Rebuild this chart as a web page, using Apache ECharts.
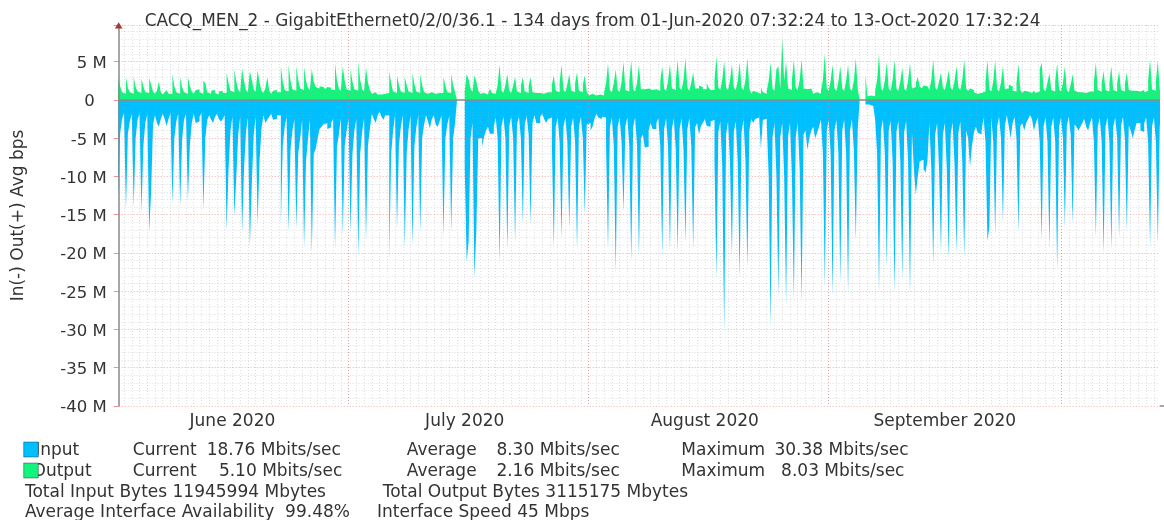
<!DOCTYPE html>
<html><head><meta charset="utf-8">
<script src="https://cdn.jsdelivr.net/npm/echarts@6/dist/echarts.min.js"></script>
<style>html,body{margin:0;padding:0;background:#fff}#c{width:1164px;height:520px}</style>
</head><body><div id="c"></div>
<script>
// Values in Mbit/s, four 6-hour bins per day (00-06, 06-12, 12-18, 18-24), UTC.
const inJun = [
 1.7,12.5,4.4,2.5, 1.7,14.3,4.4,2.8, 1.8,13.9,5.0,2.6, 1.8,14.7,6.0,3.0, 1.9,17.2,12.0,3.2, 2.0,3.0,3.5,2.5, 1.8,2.5,3.4,2.5,
 1.7,13.5,5.0,2.8, 1.8,13.9,5.2,2.6, 1.8,13.1,6.0,3.0, 1.8,3.0,2.8,2.2, 1.7,14.3,5.0,2.6, 2.0,2.6,3.0,2.2, 1.8,2.5,2.8,2.5,
 2.0,17.0,9.0,4.0, 2.2,15.2,10.0,4.5, 2.2,17.3,9.0,4.2, 2.3,19.2,11.0,4.5, 2.2,16.2,8.0,3.8, 2.0,3.0,2.6,2.2, 1.8,2.6,2.5,2.0,
 2.0,16.3,6.0,3.5, 2.2,17.3,6.5,4.0, 2.5,16.8,7.0,5.0, 2.6,19.4,8.0,5.2, 2.6,20.0,7.0,6.4, 5.0,3.8,3.5,3.2, 3.0,3.8,3.6,3.0,
 2.5,19.4,6.0,4.5, 2.4,17.6,6.0,4.0
];
const outJun = [
 0.8,2.9,1.8,1.0, 0.8,3.0,1.6,1.0, 0.8,3.0,1.7,1.1, 0.9,2.8,1.8,1.0, 0.9,2.9,2.0,1.1, 0.8,1.2,2.4,1.0, 0.7,1.0,1.3,0.8,
 0.8,3.4,1.8,1.0, 0.8,3.0,1.7,1.0, 0.8,3.0,1.9,1.1, 0.8,1.3,1.4,1.0, 0.8,2.5,2.2,1.0, 0.8,1.2,1.3,0.9, 0.7,1.1,1.2,0.9,
 0.9,3.6,2.2,1.2, 1.0,4.0,2.4,1.3, 1.0,4.1,2.5,1.3, 1.0,3.8,2.6,1.4, 1.0,3.9,2.3,1.2, 0.9,1.5,3.0,1.2, 0.8,1.2,1.3,1.0,
 1.0,4.4,2.4,1.3, 1.1,4.6,2.5,1.4, 1.2,4.4,2.6,1.5, 1.3,4.3,2.5,1.6, 1.3,4.0,2.4,1.7, 1.5,1.8,1.7,1.5, 1.4,1.7,1.6,1.3,
 1.3,4.8,2.6,1.5, 1.2,4.4,2.5,1.4
];
const inJul = [
 2.4,17.4,7.0,4.0, 2.5,20.4,7.0,4.2, 2.4,18.4,6.0,3.8, 1.8,2.5,3.0,2.0, 1.5,2.2,2.6,2.0,
 2.0,20.9,7.0,4.0, 2.0,16.9,6.0,3.5, 2.0,19.4,7.0,3.8, 2.1,19.0,6.0,3.6, 2.0,17.4,5.0,3.2, 2.0,2.8,3.7,2.5, 2.0,3.2,3.5,2.8,
 2.0,17.8,5.0,3.2, 2.1,17.3,5.0,3.0, null,null,null,null, 9.0,21.1,18.5,5.0, 3.0,23.3,16.9,5.0, 5.0,6.1,4.8,4.0, 3.5,4.4,4.4,3.5,
 2.3,5.0,21.4,3.4, 2.2,5.0,19.6,3.4, 2.2,5.0,18.7,3.2, 2.2,5.0,16.2,3.2, 2.1,4.5,16.2,3.0, 2.0,3.0,3.0,2.2, 1.8,2.5,3.0,2.5,
 2.3,5.5,19.4,3.5, 2.3,5.5,18.2,3.5, 2.3,5.5,16.9,3.5, 2.3,5.5,19.6,3.5, 2.2,5.0,15.0,3.2
];
const outJul = [
 1.2,4.0,2.4,1.4, 1.2,5.0,2.6,1.4, 1.1,4.2,2.3,1.3, 0.8,1.0,0.9,0.7, 0.7,0.9,0.8,0.7,
 0.9,3.8,2.2,1.1, 0.9,3.2,2.0,1.1, 0.9,3.0,2.0,1.1, 0.9,3.5,2.1,1.1, 0.9,3.4,2.0,1.0, 0.8,0.9,1.0,0.8, 0.8,0.9,0.9,0.8,
 0.9,3.0,1.9,1.0, 0.9,3.4,2.0,1.0, null,null,null,null, 1.2,3.4,2.7,1.5, 1.0,3.2,2.4,1.2, 0.8,0.9,0.8,0.7, 0.8,1.5,0.9,0.8,
 0.9,2.0,4.6,1.2, 0.9,2.0,3.4,1.2, 0.9,1.9,3.0,1.1, 0.9,1.9,3.0,1.1, 0.9,1.8,3.0,1.0, 0.9,1.0,0.9,0.8, 0.8,0.9,1.0,0.8,
 1.0,2.0,3.2,1.2, 1.0,2.2,4.6,1.3, 1.0,2.1,3.4,1.2, 1.0,2.2,3.6,1.2, 1.0,2.0,3.2,1.1
];
const inAug = [
 3.0,4.0,3.5,2.5, 1.8,2.3,2.5,2.2,
 2.3,6.0,19.6,3.5, 2.3,6.0,22.6,3.5, 2.3,5.5,14.6,3.4, 2.3,6.0,21.1,3.5, 2.3,6.0,20.4,5.0, 4.5,6.2,6.1,4.0, 3.0,3.8,3.8,3.0,
 2.4,6.0,20.4,3.8, 2.4,6.0,19.8,3.8, 2.4,6.5,19.9,3.8, 2.4,6.5,18.6,3.8, 2.4,6.0,19.6,3.6, 3.0,4.5,3.4,3.0, 2.5,3.4,3.5,2.8,
 2.6,8.0,23.3,4.2, 2.8,8.5,30.38,4.5, 2.8,8.0,20.4,4.2, 2.8,8.0,23.4,4.2, 2.6,8.0,22.0,4.0, 2.5,3.0,2.5,2.3, 2.0,6.3,2.6,2.5,
 3.0,10.0,29.6,4.8, 3.0,10.0,25.7,4.8, 3.0,10.0,26.8,4.8, 3.0,10.0,26.1,4.8, 3.0,9.0,26.4,4.5, 4.0,6.5,5.0,4.0, 3.5,5.0,4.3,3.5,
 2.6,7.0,24.4,4.0
];
const outAug = [
 0.6,0.8,0.7,0.6, 0.5,0.7,0.6,0.6,
 1.0,2.2,4.8,1.3, 1.0,2.2,4.0,1.3, 1.0,2.3,5.0,1.3, 1.1,2.4,5.2,1.4, 1.1,2.3,4.6,1.4, 1.4,1.6,1.5,1.3, 1.3,1.5,1.4,1.2,
 1.2,2.4,4.4,1.5, 1.2,2.4,4.7,1.5, 1.3,2.5,5.2,1.6, 1.3,2.6,5.5,1.6, 1.2,2.3,3.6,1.5, 1.5,1.9,1.7,1.4, 1.4,2.2,1.6,1.3,
 1.3,2.6,5.7,1.6, 1.3,2.6,5.1,1.6, 1.3,2.5,4.7,1.6, 1.3,2.5,4.9,1.6, 1.3,2.6,5.5,1.5, 0.8,1.2,1.0,0.8, 0.8,1.6,1.0,0.8,
 1.2,2.5,4.9,1.5, 1.2,4.0,4.4,1.5, 8.03,2.5,5.0,1.5, 1.3,2.6,5.3,1.6, 1.3,2.6,5.3,1.5, 1.4,1.6,1.5,1.3, 0.8,1.0,0.9,0.8,
 1.2,2.6,6.0,1.5
];
const inSep = [
 2.6,7.0,25.7,4.0, 2.6,7.0,23.9,4.0, 2.6,7.0,25.4,4.0, 2.5,6.5,18.4,3.8, null,null,null,0.6, 0.6,0.7,0.8,0.6,
 2.6,7.0,25.2,4.0, 2.6,7.0,22.0,4.0, 2.7,8.0,25.2,4.2, 2.7,8.0,23.6,4.2, 2.7,8.0,25.6,4.2, 9.0,12.4,10.0,8.0, 7.8,9.0,9.5,8.0,
 3.0,9.0,21.6,4.5, 3.0,9.0,20.0,4.5, 3.0,9.0,20.9,4.5, 2.9,8.5,20.0,4.3, 2.8,8.0,20.7,4.0, 5.0,8.7,6.0,4.3, 3.5,4.3,4.5,4.0,
 2.3,5.5,18.4,16.6, 2.3,5.5,17.6,3.5, 2.2,5.0,16.0,3.4, 2.0,3.4,5.0,3.0, 2.2,5.0,17.3,3.4, 3.0,4.0,3.0,2.5, 2.0,2.5,4.0,3.0,
 2.3,5.5,18.4,3.5, 2.3,5.5,19.4,3.5, 2.3,5.5,22.2,3.5
];
const outSep = [
 1.2,2.5,4.6,1.5, 1.2,2.4,4.4,1.5, 1.2,2.5,4.6,1.5, 1.2,2.5,5.5,1.5, null,null,null,3.3, 0.5,0.6,0.6,0.5,
 1.2,2.6,6.0,1.5, 1.2,2.5,4.9,1.5, 1.2,2.6,5.2,1.5, 1.2,2.4,4.2,1.5, 1.2,2.5,4.8,1.5, 1.7,2.2,3.0,1.8, 1.5,1.9,1.8,1.6,
 1.3,2.6,5.3,1.6, 1.3,2.4,3.6,1.6, 1.3,2.4,3.9,1.6, 1.3,2.5,4.4,1.6, 1.3,2.6,5.3,1.5, 1.2,1.5,1.3,1.0, 0.8,1.0,0.9,0.8,
 1.1,2.4,5.2,1.4, 1.1,2.4,5.2,1.4, 1.1,2.3,4.4,1.4, 1.5,2.0,1.8,1.2, 1.1,2.3,4.7,1.3, 0.9,1.2,1.1,0.9, 0.9,1.0,1.2,0.9,
 1.1,4.0,4.9,1.4, 1.1,2.3,3.5,1.3, 1.1,2.4,4.8,1.4
];
const inOct = [
 2.3,5.0,16.6,3.4, 2.2,4.5,16.2,3.2, 3.5,4.0,3.5,3.0, 2.5,3.5,4.0,3.0,
 2.3,5.5,17.9,3.5, 2.3,5.5,20.2,3.5, 2.3,5.5,19.6,3.5, 2.3,5.0,18.0,3.4, 2.2,5.0,17.2,3.3, 4.0,5.0,4.0,3.0, 3.0,4.0,4.2,3.0,
 2.3,5.5,19.2,3.5, 2.3,5.5,18.76,3.5
];
const outOct = [
 1.1,2.3,4.4,1.3, 1.0,2.0,3.4,1.2, 1.0,1.1,1.0,0.9, 0.9,1.0,1.1,0.9,
 1.1,2.4,4.9,1.3, 1.1,2.2,3.8,1.3, 1.1,2.3,4.4,1.3, 1.1,2.2,3.8,1.3, 1.1,2.1,3.6,1.3, 1.2,1.3,1.2,1.0, 1.1,1.2,1.3,1.0,
 1.2,2.5,5.3,1.4, 1.2,2.5,5.1,1.4
];

const monthLabels = ['June 2020', 'July 2020', 'August 2020', 'September 2020'];
const monthLabelDates = [Date.UTC(2020,5,16), Date.UTC(2020,6,16), Date.UTC(2020,7,16), Date.UTC(2020,8,16)];
const yTickLabelsM = [5, 0, -5, -10, -15, -20, -25, -30, -35, -40];

const titleText = 'CACQ_MEN_2 - GigabitEthernet0/2/0/36.1 - 134 days from 01-Jun-2020 07:32:24 to 13-Oct-2020 17:32:24';
const legendInput = ['Input', 'Current', '18.76 Mbits/sec', 'Average', '8.30 Mbits/sec', 'Maximum', '30.38 Mbits/sec'];
const legendOutput = ['Output', 'Current', '5.10 Mbits/sec', 'Average', '2.16 Mbits/sec', 'Maximum', '8.03 Mbits/sec'];
const legendTotals = ['Total Input Bytes 11945994 Mbytes', 'Total Output Bytes 3115175 Mbytes'];
const legendInfo = ['Average Interface Availability  99.48%', 'Interface Speed 45 Mbps'];

const C_IN = '#00bfff', C_OUT = '#12f47c';
const START = Date.UTC(2020,5,1,7,32,24), END = Date.UTC(2020,9,13,17,32,24);
const DAY = 86400000, BIN = 6*3600000;
const months = [[5,inJun,outJun],[6,inJul,outJul],[7,inAug,outAug],[8,inSep,outSep],[9,inOct,outOct]];

function buildSeries(idx, sign){
  const pts = []; let prev = null, lastT = null;
  months.forEach(m => {
    m[idx].forEach((v, k) => {
      const t = Date.UTC(2020, m[0], 1 + Math.floor(k/4), (k%4)*6);
      if (v == null) { if (prev != null) pts.push([t, prev]); pts.push([t, null]); prev = null; }
      else { prev = sign * v * 1e6; pts.push([t, prev]); }
      lastT = t;
    });
  });
  if (prev != null) pts.push([lastT + BIN, prev]);
  return pts;
}

const FONT = 'DejaVu Sans', TXT = '#333';
const chart = echarts.init(document.getElementById('c'), null, {renderer:'canvas'});
const majorGrid = {color:'rgba(232,120,120,0.6)', type:[1,2], width:1};
const minorGrid = {color:'rgba(160,160,160,0.35)', type:[1,2], width:1};

const option = {
  animation:false,
  useUTC:true,
  backgroundColor:'#fff',
  grid:{left:118.7, right:4.4, top:25, bottom:114, containLabel:false},
  xAxis:[{
    type:'time', min:START, max:END, minInterval:28*DAY, maxInterval:31*DAY,
    axisLine:{show:true, lineStyle:{color:'#8a8a8a', width:1.5}},
    axisTick:{show:false}, axisLabel:{show:false},
    splitLine:{show:true, showMinLine:false, showMaxLine:false, lineStyle:majorGrid},
    z:5
  },{
    type:'time', min:START, max:END, minInterval:DAY, maxInterval:DAY, position:'bottom',
    axisLine:{show:false}, axisTick:{show:false}, axisLabel:{show:false},
    splitLine:{show:true, showMinLine:false, showMaxLine:false, lineStyle:minorGrid},
    z:4
  }],
  yAxis:{
    type:'value', min:-40e6, max:9.8e6, interval:5e6,
    axisLine:{show:true, lineStyle:{color:'#8a8a8a', width:1.5}},
    axisTick:{show:true, length:5, lineStyle:{color:'rgba(232,120,120,0.8)'}},
    axisLabel:{
      margin:12, color:TXT, fontSize:16.5, fontFamily:FONT, padding:[4,0,0,0],
      formatter: v => {
        const m = Math.round(v/1e6);
        if (Math.abs(v - m*1e6) > 1 || yTickLabelsM.indexOf(m) < 0) return '';
        return m === 0 ? '{z|0}' : m + ' M';
      },
      rich:{z:{padding:[0,12,0,0], fontSize:16.5, fontFamily:FONT, color:TXT}}
    },
    splitLine:{show:true, lineStyle:majorGrid},
    minorTick:{show:false, splitNumber:5},
    minorSplitLine:{show:true, lineStyle:minorGrid},
    z:5
  },
  series:[{
    type:'line', name:'Output', data:buildSeries(2, 1), step:'end', symbol:'none', showSymbol:false,
    lineStyle:{width:0, opacity:0}, areaStyle:{color:C_OUT, opacity:1}, color:C_OUT, silent:true, clip:true, z:2
  },{
    type:'line', name:'Input', data:buildSeries(1, -1), step:'end', symbol:'none', showSymbol:false,
    lineStyle:{width:0, opacity:0}, areaStyle:{color:C_IN, opacity:1}, color:C_IN, silent:true, clip:true, z:2
  }]
};
chart.setOption(option);

function txt(x, y, s, opt){
  return Object.assign({type:'text', x:x, y:y, silent:true, z:10,
    style:{text:s, fill:TXT, font:'17px "DejaVu Sans"', textAlign:'left', textVerticalAlign:'middle'}}, opt||{});
}
const g = [];
g.push(txt(144.7, 21.5, titleText, {style:{text:titleText, fill:TXT, font:'16.9px "DejaVu Sans"', textAlign:'left', textVerticalAlign:'middle'}}));
g.push({type:'text', x:18.5, y:215.5, rotation:Math.PI/2, silent:true, z:10,
  style:{text:'In(-) Out(+) Avg bps', fill:TXT, font:'17px "DejaVu Sans"', textAlign:'center', textVerticalAlign:'middle'}});
g.push({type:'polygon', silent:true, z:10, shape:{points:[[114.9,28.6],[122.5,28.6],[118.7,22.2]]}, style:{fill:'#a23a32'}});
g.push({type:'line', silent:true, z:10, shape:{x1:1159.6, y1:406, x2:1164, y2:406}, style:{stroke:'#8a8a8a', lineWidth:1.5}});
monthLabels.forEach((s, i) => {
  const x = chart.convertToPixel({xAxisIndex:0}, monthLabelDates[i]);
  g.push(txt(x, 421.5, s, {style:{text:s, fill:TXT, font:'17px "DejaVu Sans"', textAlign:'center', textVerticalAlign:'middle'}}));
});
const rowY = [450.5, 471.5, 492.5, 513];
[[legendInput, 35.2], [legendOutput, 32.5]].forEach(([row, x0], r) => {
  const y = rowY[r];
  g.push(txt(x0, y, row[0]));
  g.push({type:'rect', silent:true, z:11, shape:{x:23.7, y:y-8.5, width:14.6, height:15},
    style:{fill: r===0 ? C_IN : C_OUT, stroke:'rgba(0,0,0,0.35)', lineWidth:1}});
  g.push(txt(132.8, y, row[1]));
  g.push(txt(r===0 ? 206.7 : 218.9, y, row[2]));
  g.push(txt(406.8, y, row[3]));
  g.push(txt(496.4, y, row[4]));
  g.push(txt(681.3, y, row[5]));
  g.push(txt(r===0 ? 774.4 : 781.1, y, row[6]));
});
g.push(txt(24.9, rowY[2], legendTotals[0]));
g.push(txt(382.7, rowY[2], legendTotals[1]));
g.push(txt(24.9, rowY[3], legendInfo[0]));
g.push(txt(377, rowY[3], legendInfo[1]));
chart.setOption({graphic:g});
</script></body></html>
